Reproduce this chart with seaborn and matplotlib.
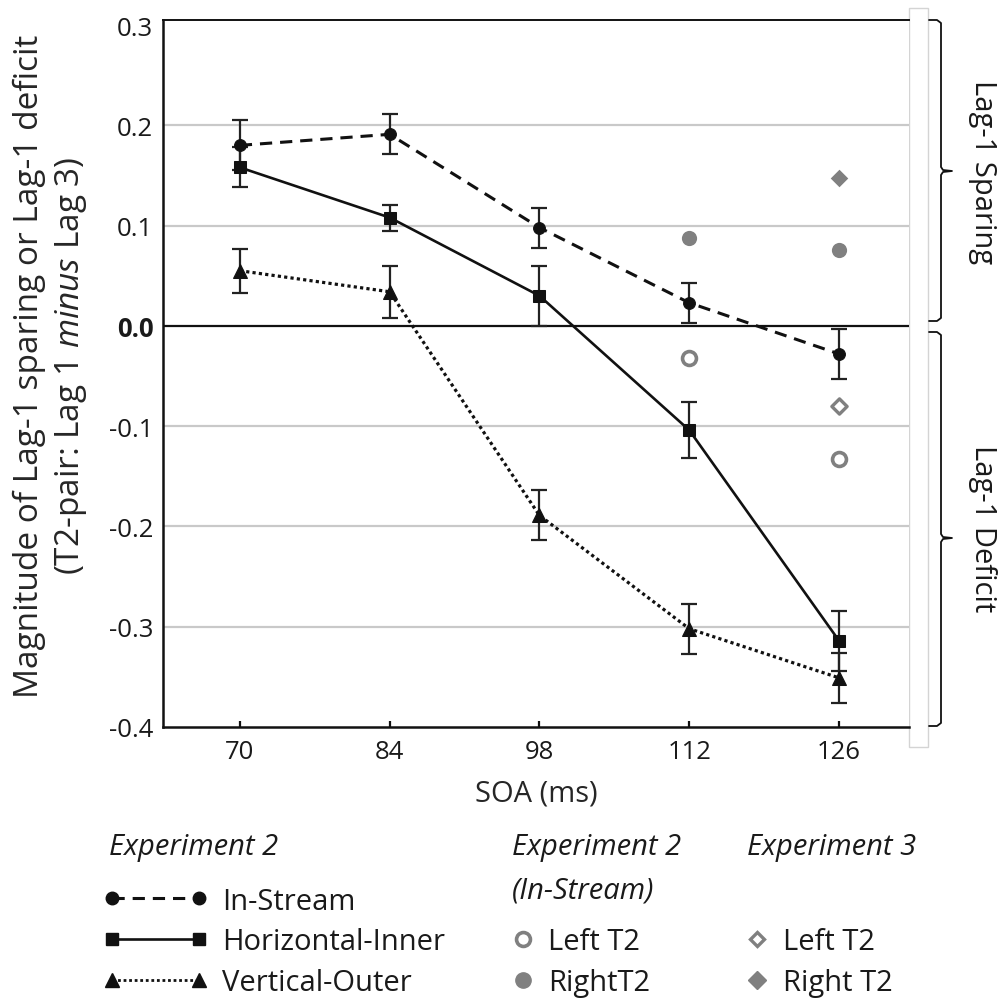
import matplotlib
matplotlib.use("Agg")
import matplotlib.pyplot as plt
import seaborn as sns
from matplotlib.lines import Line2D
from matplotlib.patches import Rectangle

# ---------------- data ----------------
soa = [70, 84, 98, 112, 126]
soa_labels = ["70", "84", "98", "112", "126"]

in_stream = [0.180, 0.191, 0.098, 0.023, -0.028]
in_stream_err = [0.025, 0.020, 0.020, 0.020, 0.025]
horizontal_inner = [0.158, 0.108, 0.030, -0.104, -0.314]
horizontal_inner_err = [0.020, 0.013, 0.030, 0.028, 0.030]
vertical_outer = [0.055, 0.034, -0.189, -0.302, -0.351]
vertical_outer_err = [0.022, 0.026, 0.025, 0.025, 0.025]

exp2_soa = [112, 126]
exp2_left_t2 = [-0.032, -0.133]
exp2_right_t2 = [0.088, 0.076]
exp3_soa = [126]
exp3_left_t2 = [-0.080]
exp3_right_t2 = [0.147]

yticks = [-0.4, -0.3, -0.2, -0.1, 0.0, 0.1, 0.2, 0.3]
ygrid = [-0.3, -0.2, -0.1, 0.1, 0.2]

# ---------------- style ----------------
sns.set_theme(style="white")
FONT = "Open Sans"
plt.rcParams["font.family"] = [FONT, "DejaVu Sans"]
plt.rcParams["mathtext.fontset"] = "custom"
plt.rcParams["mathtext.rm"] = FONT
plt.rcParams["mathtext.it"] = FONT + ":italic"
plt.rcParams["text.color"] = "#1a1a1a"

W, H = 1000, 1003
fig = plt.figure(figsize=(W / 100, H / 100), dpi=100)
fig.patch.set_facecolor("white")

def fx(px):
    return px / W

def fy(py):
    return 1 - py / H

ax_l, ax_r, ax_t, ax_b = 163, 909, 21, 728
ax = fig.add_axes([fx(ax_l), fy(ax_b), fx(ax_r - ax_l), (ax_b - ax_t) / H])
ax.set_facecolor("white")

GRAY = "#808080"
INK = "#111111"

# grid and zero line
for v in ygrid:
    ax.axhline(v, color="#c9c9c9", lw=1.6, zorder=0)
ax.axhline(0.0, color=INK, lw=1.6, zorder=1)

# error bars
for vals, err in [(in_stream, in_stream_err),
                  (horizontal_inner, horizontal_inner_err),
                  (vertical_outer, vertical_outer_err)]:
    ax.errorbar(soa, vals, yerr=err, fmt="none", ecolor="#222222",
                elinewidth=1.6, capsize=5.5, capthick=1.6, zorder=2)

# lines
sns.lineplot(x=soa, y=in_stream, ax=ax, color=INK, marker="o", markersize=8.5,
             markeredgecolor=INK, linewidth=2.2, linestyle=(0, (4, 2.6)), zorder=3)
sns.lineplot(x=soa, y=horizontal_inner, ax=ax, color=INK, marker="s", markersize=8.5,
             markeredgecolor=INK, linewidth=1.9, linestyle="-", zorder=3)
sns.lineplot(x=soa, y=vertical_outer, ax=ax, color=INK, marker="^", markersize=10,
             markeredgecolor=INK, linewidth=2.3, linestyle=(0, (1, 1)), zorder=3)

# gray single points
sns.scatterplot(x=exp2_soa, y=exp2_right_t2, ax=ax, marker="o", s=120,
                color=GRAY, edgecolor=GRAY, linewidth=0, zorder=4)
sns.scatterplot(x=exp2_soa, y=exp2_left_t2, ax=ax, marker="o", s=100,
                facecolor="white", edgecolor=GRAY, linewidth=2.6, zorder=4)
sns.scatterplot(x=exp3_soa, y=exp3_right_t2, ax=ax, marker="D", s=80,
                color=GRAY, edgecolor=GRAY, linewidth=0, zorder=4)
sns.scatterplot(x=exp3_soa, y=exp3_left_t2, ax=ax, marker="D", s=60,
                facecolor="white", edgecolor=GRAY, linewidth=2.4, zorder=4)

# axes limits / ticks
ax.set_xlim(70 - 0.513 * 14, 70 + 4.467 * 14)
ax.set_ylim(-0.4, 0.305)
ax.set_xticks(soa)
ax.set_xticklabels(soa_labels)
ax.set_yticks(yticks)
ax.set_yticklabels([f"{v:.1f}" for v in yticks])
for lab in ax.get_yticklabels():
    if lab.get_text() == "0.0":
        lab.set_fontweight("bold")
ax.tick_params(axis="y", length=0, pad=7, labelsize=18.5, labelcolor="#1a1a1a")
ax.tick_params(axis="x", direction="in", length=4.5, width=1.6, color=INK,
               pad=9, labelsize=18.5, labelcolor="#1a1a1a", bottom=True)

for side in ["left", "bottom"]:
    ax.spines[side].set_color(INK)
    ax.spines[side].set_linewidth(1.8)
ax.spines["top"].set_color(INK)
ax.spines["top"].set_linewidth(1.4)
ax.spines["right"].set_visible(False)

ax.set_xlabel("SOA (ms)", fontsize=21)
ax.xaxis.label.set_va("center")
ax.xaxis.set_label_coords(0.5, -(794 - ax_b) / (ax_b - ax_t))
ax.set_ylabel("Magnitude of Lag-1 sparing or Lag-1 deficit\n"
              "(T2-pair: Lag 1 $\\it{minus}$ Lag 3)", fontsize=24, linespacing=1.25)
ax.yaxis.label.set_va("center")
ax.yaxis.label.set_multialignment("center")
ax.yaxis.set_label_coords(-(ax_l - 51) / (ax_r - ax_l), (ax_b - 366) / (ax_b - ax_t))

# right-hand box and braces
fig.add_artist(Rectangle((fx(909), fy(748)), fx(19), (748 - 9) / H,
                         transform=fig.transFigure, facecolor="white",
                         edgecolor="#d4d4d4", lw=1.0, zorder=0))

def brace(top, bottom, mid, x0=929, x1=941, x2=952):
    xs = [x0, x1 - 4, x1, x1, x1 + 2, x2, x1 + 2, x1, x1, x1 - 4, x0]
    ys = [top, top, top + 3, mid - 4, mid - 1, mid, mid + 1, mid + 4, bottom - 3, bottom, bottom]
    fig.add_artist(Line2D([fx(x) for x in xs], [fy(y) for y in ys],
                          transform=fig.transFigure, color=INK, lw=1.3,
                          solid_joinstyle="round"))

brace(21, 322, 172)
brace(333, 727, 539)
fig.text(fx(983), fy(172), "Lag-1 Sparing", rotation=-90, ha="center", va="center",
         fontsize=21, color="#1a1a1a")
fig.text(fx(983), fy(529), "Lag-1 Deficit", rotation=-90, ha="center", va="center",
         fontsize=21, color="#1a1a1a")

# ---------------- legends ----------------
LFS = 21
hdr = dict(fontsize=LFS, style="italic", va="center", ha="left", color="#1a1a1a")
fig.text(fx(109), fy(848), "Experiment 2", **hdr)
fig.text(fx(512), fy(848), "Experiment 2", **hdr)
fig.text(fx(512), fy(891), "(In-Stream)", **hdr)
fig.text(fx(747), fy(848), "Experiment 3", **hdr)

h_in = Line2D([], [], color=INK, marker="o", markersize=9, lw=2.2, linestyle=(0, (4, 2.6)))
h_hor = Line2D([], [], color=INK, marker="s", markersize=9, lw=1.9, linestyle="-")
h_ver = Line2D([], [], color=INK, marker="^", markersize=10, lw=2.0, linestyle=(0, (1, 1)))
leg1 = fig.legend([h_in, h_hor, h_ver], ["In-Stream", "Horizontal-Inner", "Vertical-Outer"],
                  loc="center left", bbox_to_anchor=(fx(103), fy(943)), frameon=False,
                  fontsize=LFS, numpoints=2, handlelength=3.6, handletextpad=0.48,
                  labelspacing=0.41, borderpad=0, borderaxespad=0)

h_l2 = Line2D([], [], linestyle="none", marker="o", markersize=10, markerfacecolor="white",
              markeredgecolor=GRAY, markeredgewidth=2.6)
h_r2 = Line2D([], [], linestyle="none", marker="o", markersize=11, color=GRAY)
leg2 = fig.legend([h_l2, h_r2], ["Left T2", "RightT2"],
                  loc="center left", bbox_to_anchor=(fx(508), fy(963)), frameon=False,
                  fontsize=LFS, numpoints=1, handlelength=1.0, handletextpad=0.36,
                  labelspacing=0.41, borderpad=0, borderaxespad=0)

h_l3 = Line2D([], [], linestyle="none", marker="D", markersize=7.5, markerfacecolor="white",
              markeredgecolor=GRAY, markeredgewidth=2.4)
h_r3 = Line2D([], [], linestyle="none", marker="D", markersize=9, color=GRAY)
leg3 = fig.legend([h_l3, h_r3], ["Left T2", "Right T2"],
                  loc="center left", bbox_to_anchor=(fx(742), fy(963)), frameon=False,
                  fontsize=LFS, numpoints=1, handlelength=1.0, handletextpad=0.39,
                  labelspacing=0.41, borderpad=0, borderaxespad=0)

fig.savefig("out.png", dpi=100, facecolor="white")
